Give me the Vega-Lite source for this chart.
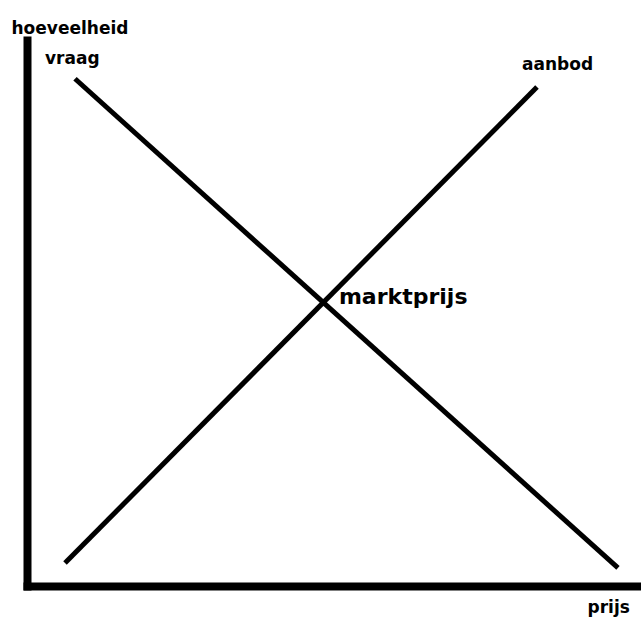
{
  "$schema": "https://vega.github.io/schema/vega-lite/v6.json",
  "width": 614,
  "height": 546,
  "autosize": {"type": "none"},
  "padding": {"left": 27, "top": 40, "right": 0, "bottom": 31},
  "background": "white",
  "config": {"view": {"stroke": null}, "font": "DejaVu Sans"},
  "datasets": {
    "curves": [
      {"curve": "vraag", "prijs": 7.82, "hoeveelheid": 92.9},
      {"curve": "vraag", "prijs": 96.25, "hoeveelheid": 3.3},
      {"curve": "aanbod", "prijs": 6.19, "hoeveelheid": 4.2},
      {"curve": "aanbod", "prijs": 83.06, "hoeveelheid": 91.4}
    ],
    "markt": [
      {"label": "marktprijs", "prijs": 48.2, "hoeveelheid": 51.9}
    ]
  },
  "layer": [
    {
      "data": {"name": "curves"},
      "mark": {"type": "line", "color": "black", "strokeWidth": 5},
      "encoding": {
        "x": {"field": "prijs", "type": "quantitative", "scale": {"domain": [0, 100]},
          "axis": {"title": "prijs", "domainColor": "black", "domainWidth": 8, "domainCap": "square", "ticks": false, "labels": false, "grid": false,
            "titleFont": "DejaVu Sans", "titleFontSize": 17, "titleFontWeight": "bold", "titleColor": "black",
            "titleAlign": "left", "titleBaseline": "alphabetic", "titleX": 560, "titleY": 26}},
        "y": {"field": "hoeveelheid", "type": "quantitative", "scale": {"domain": [0, 100]},
          "axis": {"title": "hoeveelheid", "domainColor": "black", "domainWidth": 8, "domainCap": "square", "ticks": false, "labels": false, "grid": false,
            "titleFont": "DejaVu Sans", "titleFontSize": 17, "titleFontWeight": "bold", "titleColor": "black", "titleAngle": 0,
            "titleAlign": "left", "titleBaseline": "alphabetic", "titleX": -16, "titleY": -7}},
        "detail": {"field": "curve"}
      }
    },
    {
      "data": {"name": "curves"},
      "transform": [{"filter": "datum.curve == 'vraag' && datum.hoeveelheid > 50"}],
      "mark": {"type": "text", "align": "left", "baseline": "alphabetic", "dx": -30, "dy": -15, "fontSize": 17, "fontWeight": "bold", "color": "black"},
      "encoding": {
        "x": {"field": "prijs", "type": "quantitative"},
        "y": {"field": "hoeveelheid", "type": "quantitative"},
        "text": {"field": "curve"}
      }
    },
    {
      "data": {"name": "curves"},
      "transform": [{"filter": "datum.curve == 'aanbod' && datum.hoeveelheid > 50"}],
      "mark": {"type": "text", "align": "left", "baseline": "alphabetic", "dx": -15, "dy": -17, "fontSize": 17, "fontWeight": "bold", "color": "black"},
      "encoding": {
        "x": {"field": "prijs", "type": "quantitative"},
        "y": {"field": "hoeveelheid", "type": "quantitative"},
        "text": {"field": "curve"}
      }
    },
    {
      "data": {"name": "markt"},
      "mark": {"type": "text", "align": "left", "baseline": "alphabetic", "dx": 16, "dy": 1, "fontSize": 22, "fontWeight": "bold", "color": "black"},
      "encoding": {
        "x": {"field": "prijs", "type": "quantitative"},
        "y": {"field": "hoeveelheid", "type": "quantitative"},
        "text": {"field": "label"}
      }
    }
  ]
}
